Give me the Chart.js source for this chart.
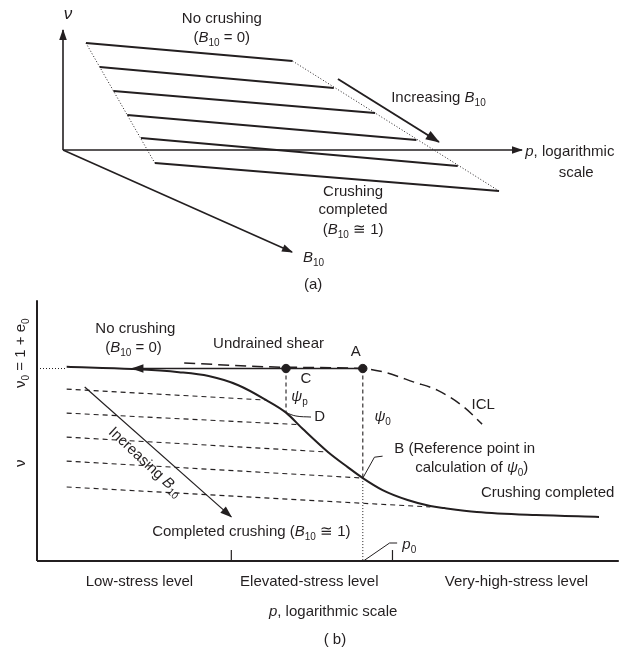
<!DOCTYPE html>
<html>
<head>
<meta charset="utf-8">
<script src="https://cdn.jsdelivr.net/npm/chart.js@4.4.1/dist/chart.umd.min.js"></script>
<style>
  body { margin: 0; background: #fff; }
  #wrap { position: relative; width: 624px; height: 654px; }
  #panelA { position: absolute; left: 0; top: 0; }
  #panelB { position: absolute; left: 0; top: 295px; }
</style>
</head>
<body>
<div id="wrap">
  <canvas id="panelA" width="624" height="295"></canvas>
  <canvas id="panelB" width="624" height="359"></canvas>
</div>
<script>
const INK = '#231f20';
const FONT = '"Liberation Sans", Arial, Helvetica, sans-serif';

// ---- Panel (a): v - log p - B10 sketch ----
// compression lines, one per B10 level (start / end in p, v units)
const bundleStartP = [5, 8, 11, 14, 17, 20];
const bundleStartV = [53.5, 41.5, 29.5, 17.5, 6, -6.5];
const bundleEndP = [50, 59, 68, 77, 86, 95];
const bundleEndV = [44.5, 31, 18.5, 5, -8, -20.5];
const axisB10P = [0, 49.9];
const axisB10V = [0, -51];
const increasingP = [59.9, 81.9];
const increasingV = [35.5, 4];

// ---- Panel (b): crushing line and state parameter ----
const nu0 = 73.8;
const crushCurveP = [5.1, 16.4, 24.4, 29.5, 34.6, 39.4, 42.8, 45.7, 50, 53.4, 56, 59.4, 63.7, 67.6, 70, 75.6, 85.8, 96.6];
const crushCurveV = [74.5, 73.6, 72.4, 70.9, 67.4, 61.7, 56.9, 50.6, 41.8, 36, 31.8, 27.2, 23.4, 21.1, 20.3, 18.8, 17.6, 16.9];
const iclP = [25.3, 42.7, 56, 59.7, 64.8, 68.8, 73.4, 76.5];
const iclV = [75.9, 74.3, 73.8, 72.4, 68.6, 65.5, 59, 52.5];
// partially crushed lines (dashed), from the v axis to the crushing curve
const partialStartP = 5.1;
const partialStartV = [65.9, 56.7, 47.5, 38.3, 28.4];
const partialEndP = [39.4, 44.9, 50, 56, 67.6];
const partialEndV = [61.7, 52.3, 41.8, 31.8, 20.7];
const pointA = { p: 56, v: nu0 };
const pointC = { p: 42.8, v: nu0 };
const pointD = { p: 42.8, v: 56.9 };
const pointB = { p: 56, v: 31.8 };
const undrainedEndP = 16.4;
const stressTicksP = [33.4, 61.1];
const increasingBP = [8.2, 33.4];
const increasingBV = [66.7, 16.9];

const labelsA = [
  { x: 1.1, y: 68, text: '*ν*', size: 17 },
  { x: 34.6, y: 65.5, text: 'No crushing' },
  { x: 34.6, y: 56, text: '(*B*_{10} = 0)' },
  { x: 71.5, y: 26, text: 'Increasing *B*_{10}', align: 'left' },
  { x: 100.7, y: -1, text: '*p*, logarithmic', align: 'left' },
  { x: 111.8, y: -11.5, text: 'scale' },
  { x: 63.2, y: -21, text: 'Crushing' },
  { x: 63.2, y: -30, text: 'completed' },
  { x: 63.2, y: -40, text: '(*B*_{10} ≅ 1)' },
  { x: 52.3, y: -54, text: '*B*_{10}', align: 'left' },
  { x: 54.5, y: -67.5, text: '(a)' }
];

const labelsB = [
  { x: -2.7, y: 79.7, text: 'ν_{0} = 1 + e_{0}', rot: -90 },
  { x: -2.7, y: 37.5, text: 'ν', rot: -90 },
  { x: 16.9, y: 88.9, text: 'No crushing' },
  { x: 16.6, y: 81.6, text: '(*B*_{10} = 0)' },
  { x: 39.8, y: 83.1, text: 'Undrained shear' },
  { x: 54.8, y: 80.1, text: 'A' },
  { x: 46.2, y: 69.7, text: 'C' },
  { x: 43.7, y: 62.8, text: '*ψ*_{p}', align: 'left' },
  { x: 48.6, y: 55.2, text: 'D' },
  { x: 58, y: 55.2, text: '*ψ*_{0}', align: 'left' },
  { x: 74.7, y: 59.8, text: 'ICL', align: 'left' },
  { x: 61.4, y: 42.9, text: 'B (Reference point in', align: 'left' },
  { x: 65, y: 35.6, text: 'calculation of *ψ*_{0})', align: 'left' },
  { x: 76.3, y: 26.1, text: 'Crushing completed', align: 'left' },
  { x: 19.8, y: 11.1, text: 'Completed crushing (*B*_{10} ≅ 1)', align: 'left' },
  { x: 18.6, y: 37.9, text: 'Increasing *B*_{10}', rot: 43 },
  { x: 62.8, y: 6.1, text: '*p*_{0}', align: 'left' },
  { x: 17.6, y: -8, text: 'Low-stress level' },
  { x: 46.8, y: -8, text: 'Elevated-stress level' },
  { x: 82.4, y: -8, text: 'Very-high-stress level' },
  { x: 50.9, y: -19.5, text: '*p*, logarithmic scale' },
  { x: 51.2, y: -30.3, text: '( b)' }
];

// "*x*" = italic, "_{x}" = subscript
function parseRich(str) {
  return str.split(/(\*[^*]+\*|_\{[^}]+\})/).filter(Boolean).map(s => {
    if (s[0] === '*') return { t: s.slice(1, -1), it: true };
    if (s[0] === '_') return { t: s.slice(2, -1), sub: true };
    return { t: s };
  });
}

function drawRich(ctx, item, px, py) {
  const size = item.size || 15;
  const parts = parseRich(item.text);
  const fontFor = p => (p.it ? 'italic ' : '') + (p.sub ? Math.round(size * 0.68) : size) + 'px ' + FONT;
  let w = 0;
  parts.forEach(p => { ctx.font = fontFor(p); p.w = ctx.measureText(p.t).width; w += p.w; });
  ctx.save();
  ctx.translate(px, py);
  if (item.rot) ctx.rotate(item.rot * Math.PI / 180);
  let x = item.align === 'left' ? 0 : item.align === 'right' ? -w : -w / 2;
  ctx.fillStyle = INK;
  ctx.textBaseline = 'middle';
  parts.forEach(p => {
    ctx.font = fontFor(p);
    ctx.fillText(p.t, x, p.sub ? size * 0.32 : 0);
    x += p.w;
  });
  ctx.restore();
}

function labelPlugin(items) {
  return {
    id: 'richLabels',
    afterDraw(chart) {
      const sx = chart.scales.x, sy = chart.scales.y;
      items.forEach(it => drawRich(chart.ctx, it, sx.getPixelForValue(it.x), sy.getPixelForValue(it.y)));
    }
  };
}

// filled arrowhead at the last point of datasets that ask for one
const arrowPlugin = {
  id: 'arrowHeads',
  afterDatasetsDraw(chart) {
    const ctx = chart.ctx;
    chart.data.datasets.forEach((ds, i) => {
      if (!ds.arrowHead) return;
      const pts = chart.getDatasetMeta(i).data;
      const tip = pts[pts.length - 1], from = pts[pts.length - 2];
      const ang = Math.atan2(tip.y - from.y, tip.x - from.x);
      const L = ds.arrowHead, W = L * 0.38;
      ctx.save();
      ctx.fillStyle = INK;
      ctx.translate(tip.x, tip.y);
      ctx.rotate(ang);
      ctx.beginPath();
      ctx.moveTo(1, 0);
      ctx.lineTo(-L, W);
      ctx.lineTo(-L, -W);
      ctx.closePath();
      ctx.fill();
      ctx.restore();
    });
  }
};

const pts = (ps, vs) => ps.map((p, i) => ({ x: p, y: vs[i] }));
function path(ps, vs, style) {
  return Object.assign({
    data: pts(ps, vs), showLine: true, pointRadius: 0, borderColor: INK,
    backgroundColor: INK, borderWidth: 1, clip: false, tension: 0
  }, style);
}

function baseOptions(padding, yMin, yMax) {
  return {
    responsive: false,
    animation: false,
    events: [],
    layout: { padding },
    plugins: { legend: { display: false }, tooltip: { enabled: false } },
    scales: {
      x: { type: 'linear', display: false, min: 0, max: 100 },
      y: { type: 'linear', display: false, min: yMin, max: yMax }
    }
  };
}

// Panel (a)
const dsA = [];
bundleStartP.forEach((p, i) => {
  dsA.push(path([p, bundleEndP[i]], [bundleStartV[i], bundleEndV[i]], { borderWidth: 2 }));
});
const last = bundleStartP.length - 1;
dsA.push(path([bundleStartP[0], bundleStartP[last]], [bundleStartV[0], bundleStartV[last]], { borderDash: [1, 2], borderWidth: 1 }));
dsA.push(path([bundleEndP[0], bundleEndP[last]], [bundleEndV[0], bundleEndV[last]], { borderDash: [1, 2], borderWidth: 1 }));
dsA.push(path([0, 0], [0, 60], { borderWidth: 1.6, arrowHead: 10 }));
dsA.push(path([0, 100], [0, 0], { borderWidth: 1.6, arrowHead: 10 }));
dsA.push(path(axisB10P, axisB10V, { borderWidth: 1.6, arrowHead: 10 }));
dsA.push(path(increasingP, increasingV, { borderWidth: 2, arrowHead: 13 }));

new Chart(document.getElementById('panelA'), {
  type: 'scatter',
  data: { datasets: dsA },
  options: baseOptions({ left: 63, right: 102, top: 30, bottom: 35 }, -55, 60),
  plugins: [arrowPlugin, labelPlugin(labelsA)]
});

// Panel (b)
const dsB = [];
dsB.push(path([0, 0], [0, 100], { borderWidth: 2 }));
dsB.push(path([0, 100], [0, 0], { borderWidth: 2 }));
stressTicksP.forEach(p => dsB.push(path([p, p], [0, 4.2], { borderWidth: 1.2 })));
dsB.push(path([0, partialStartP], [nu0, nu0], { borderDash: [1, 2], borderWidth: 1 }));
partialStartV.forEach((v, i) => {
  dsB.push(path([partialStartP, partialEndP[i]], [v, partialEndV[i]], { borderDash: [5, 4], borderWidth: 1.1 }));
});
dsB.push(path(crushCurveP, crushCurveV, { borderWidth: 2, cubicInterpolationMode: 'monotone' }));
dsB.push(path(iclP, iclV, { borderWidth: 1.5, borderDash: [11, 6], cubicInterpolationMode: 'monotone' }));
dsB.push(path([pointA.p, undrainedEndP], [nu0, nu0], { borderWidth: 1.6, arrowHead: 11 }));
dsB.push(path([pointC.p, pointD.p], [pointC.v, pointD.v], { borderDash: [4, 3], borderWidth: 1.1 }));
dsB.push(path([pointA.p, pointB.p], [pointA.v, pointB.v], { borderDash: [4, 3], borderWidth: 1.1 }));
dsB.push(path([pointB.p, pointB.p], [pointB.v, 0], { borderDash: [1, 2], borderWidth: 1 }));
dsB.push(path(increasingBP, increasingBV, { borderWidth: 1.2, arrowHead: 11 }));
// leader lines to B, D and p0
dsB.push(path([pointB.p, 58, 59.4], [pointB.v, 39.8, 40.2], { borderWidth: 1 }));
dsB.push(path([pointD.p, 44.5, 47.1], [pointD.v, 55.6, 55.2], { borderWidth: 1, tension: 0.4 }));
dsB.push(path([56.1, 60.6, 61.9], [0, 6.9, 6.9], { borderWidth: 1 }));
dsB.push({
  data: pts([pointC.p, pointA.p], [pointC.v, pointA.v]), showLine: false,
  pointRadius: 4.2, pointBackgroundColor: INK, pointBorderColor: INK, clip: false
});

new Chart(document.getElementById('panelB'), {
  type: 'scatter',
  data: { datasets: dsB },
  options: baseOptions({ left: 37, right: 1, top: 5, bottom: 93 }, 0, 100),
  plugins: [arrowPlugin, labelPlugin(labelsB)]
});
</script>
</body>
</html>
